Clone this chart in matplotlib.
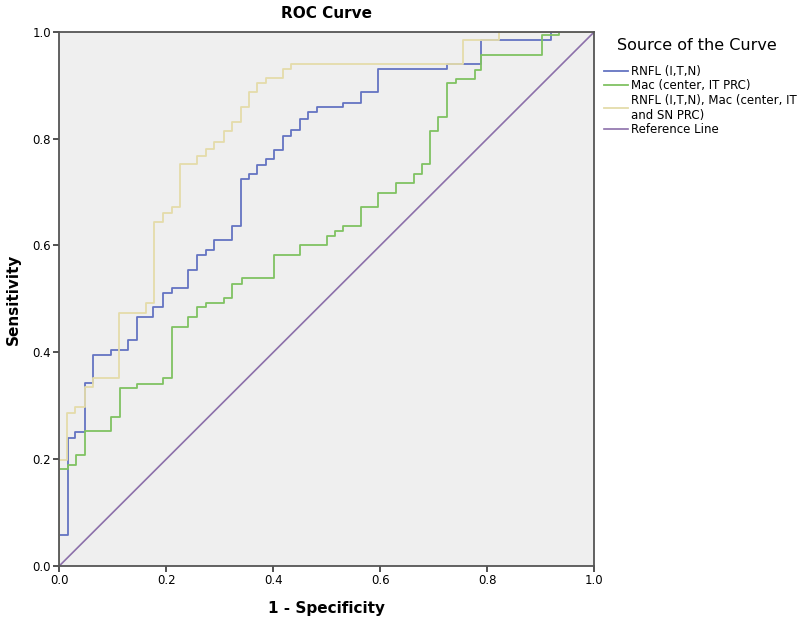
import matplotlib
matplotlib.use("Agg")
import matplotlib.pyplot as plt

# ROC corner points (1 - specificity, sensitivity)
rnfl_fpr = [0.0, 0.0, 0.017, 0.03, 0.049, 0.064, 0.097, 0.129, 0.146, 0.176,
            0.194, 0.211, 0.241, 0.258, 0.275, 0.29, 0.323, 0.34, 0.355, 0.37,
            0.387, 0.402, 0.419, 0.434, 0.45, 0.465, 0.482, 0.531, 0.564, 0.596,
            0.725, 0.789, 0.918, 1.0]
rnfl_tpr = [0.0, 0.058, 0.24, 0.25, 0.343, 0.395, 0.404, 0.423, 0.466, 0.485,
            0.511, 0.52, 0.554, 0.582, 0.592, 0.61, 0.637, 0.725, 0.734, 0.751,
            0.762, 0.779, 0.805, 0.816, 0.837, 0.85, 0.86, 0.867, 0.888, 0.931,
            0.94, 0.985, 1.0, 1.0]

mac_fpr = [0.0, 0.0, 0.017, 0.032, 0.049, 0.097, 0.114, 0.146, 0.194, 0.211,
           0.241, 0.258, 0.275, 0.307, 0.323, 0.342, 0.402, 0.45, 0.501, 0.516,
           0.531, 0.564, 0.596, 0.63, 0.662, 0.677, 0.693, 0.708, 0.725, 0.742,
           0.776, 0.789, 0.903, 0.933, 1.0]
mac_tpr = [0.0, 0.182, 0.19, 0.208, 0.253, 0.279, 0.333, 0.341, 0.352, 0.448,
           0.466, 0.485, 0.493, 0.502, 0.528, 0.539, 0.582, 0.601, 0.618, 0.627,
           0.637, 0.672, 0.698, 0.717, 0.734, 0.753, 0.815, 0.841, 0.904, 0.912,
           0.929, 0.957, 0.993, 1.0, 1.0]

comb_fpr = [0.0, 0.0, 0.015, 0.03, 0.049, 0.064, 0.112, 0.163, 0.178, 0.194,
            0.211, 0.226, 0.258, 0.275, 0.29, 0.307, 0.323, 0.34, 0.355, 0.37,
            0.387, 0.419, 0.434, 0.755, 0.821, 1.0]
comb_tpr = [0.0, 0.198, 0.287, 0.298, 0.335, 0.352, 0.474, 0.493, 0.644, 0.661,
            0.672, 0.753, 0.768, 0.781, 0.794, 0.815, 0.831, 0.86, 0.888, 0.904,
            0.914, 0.931, 0.94, 0.985, 1.0, 1.0]

ref_x = [0.0, 1.0]
ref_y = [0.0, 1.0]

labels = ["RNFL (I,T,N)", "Mac (center, IT PRC)",
          "RNFL (I,T,N), Mac (center, IT\nand SN PRC)", "Reference Line"]
colors = ["#6474c2", "#80c262", "#e4dcaa", "#8c70aa"]

fig = plt.figure(figsize=(8, 6.22), dpi=100)
ax = fig.add_axes([0.074, 0.09, 0.669, 0.859])
ax.set_facecolor("#efefef")

ax.plot(rnfl_fpr, rnfl_tpr, drawstyle="steps-post", color=colors[0], lw=1.3, label=labels[0])
ax.plot(mac_fpr, mac_tpr, drawstyle="steps-post", color=colors[1], lw=1.3, label=labels[1])
ax.plot(comb_fpr, comb_tpr, drawstyle="steps-post", color=colors[2], lw=1.3, label=labels[2])
ax.plot(ref_x, ref_y, color=colors[3], lw=1.2, label=labels[3])

ax.set_xlim(0, 1)
ax.set_ylim(0, 1)
ticks = [0.0, 0.2, 0.4, 0.6, 0.8, 1.0]
ax.set_xticks(ticks)
ax.set_yticks(ticks)
ax.set_xticklabels([f"{t:.1f}" for t in ticks], fontsize=8.5)
ax.set_yticklabels([f"{t:.1f}" for t in ticks], fontsize=8.5)
ax.tick_params(direction="out", length=4, width=1.2, color="#333333", pad=2)
for s in ax.spines.values():
    s.set_color("#555555")
    s.set_linewidth(1.3)

ax.set_xlabel("1 - Specificity", fontsize=11, fontweight="bold", labelpad=10)
ax.set_ylabel("Sensitivity", fontsize=11, fontweight="bold", labelpad=8)
ax.set_title("ROC Curve", fontsize=11, fontweight="bold", pad=10)

# legend title drawn separately so it can sit indented like the original
fig.text(617 / 800, 1 - 45 / 622, "Source of the Curve", fontsize=11.5, va="center", ha="left")
fig.legend(loc="upper left", bbox_to_anchor=(0.745, 1 - 57 / 622), frameon=False,
           fontsize=8.5, handlelength=2.0, handletextpad=0.25, labelspacing=0.1,
           borderpad=0.2)

fig.savefig("out.png", dpi=100)
